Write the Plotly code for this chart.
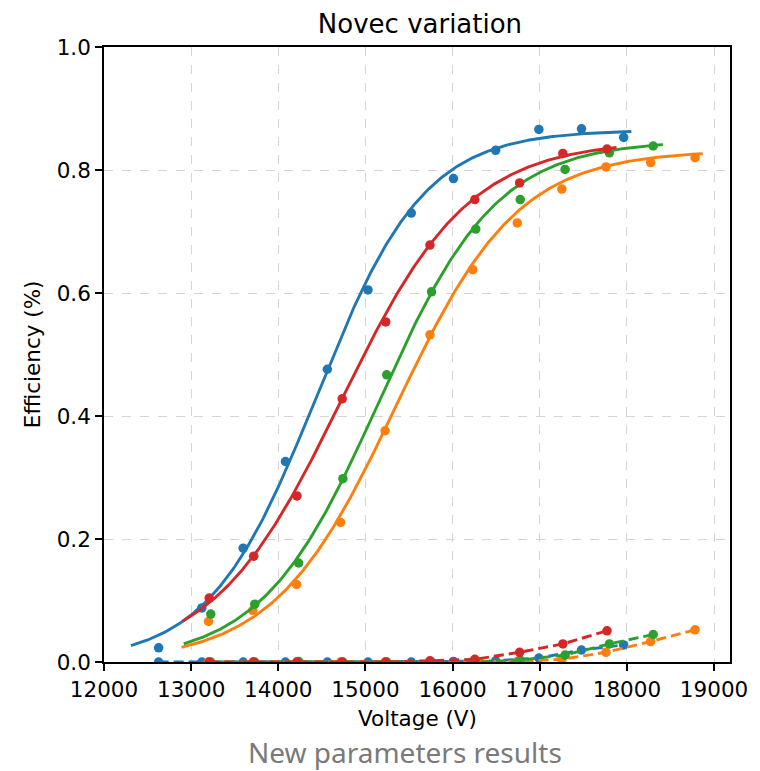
import numpy as np
import plotly.graph_objects as go

# Measured efficiency (solid fit series) and secondary dashed series per configuration
blue_v = [12627, 13123, 13597, 14082, 14563, 15029, 15526, 16010, 16494, 16990, 17479, 17963]
blue_eff = [0.023, 0.088, 0.185, 0.326, 0.476, 0.605, 0.730, 0.786, 0.832, 0.866, 0.867, 0.853]
blue_low = [0.0, 0.0, 0.0, 0.0, 0.0, 0.0, 0.0, 0.001, 0.002, 0.0065, 0.0195, 0.0278]

red_v = [13207, 13718, 14214, 14733, 15233, 15740, 16255, 16769, 17265, 17772]
red_eff = [0.104, 0.172, 0.270, 0.428, 0.553, 0.678, 0.752, 0.779, 0.827, 0.834]
red_low = [0.0, 0.0, 0.0, 0.0, 0.0, 0.002, 0.0044, 0.0158, 0.0294, 0.0507]

green_v = [13225, 13730, 14233, 14741, 15244, 15758, 16266, 16776, 17291, 17799, 18302]
green_eff = [0.078, 0.094, 0.161, 0.298, 0.467, 0.602, 0.704, 0.752, 0.801, 0.828, 0.839]
green_low = [0.0, 0.0, 0.001, 0.0, 0.0, 0.0, 0.0, 0.003, 0.0114, 0.0294, 0.0447]

orange_v = [13199, 13707, 14210, 14714, 15225, 15740, 16231, 16742, 17254, 17760, 18272, 18782]
orange_eff = [0.066, 0.084, 0.126, 0.227, 0.376, 0.532, 0.638, 0.714, 0.769, 0.805, 0.812, 0.820]
orange_low = [0.0, 0.0, 0.0, 0.0, 0.0, 0.0, 0.0, 0.001, 0.0044, 0.0158, 0.0333, 0.0524]

# Logistic fit coefficients (plateau, slope per volt, midpoint) and fitted voltage span
fit_L = {"blue": 0.865, "red": 0.848, "green": 0.848, "orange": 0.832}
fit_k = {"blue": 0.00162, "red": 0.00136, "green": 0.00148, "orange": 0.00143}
fit_x0 = {"blue": 14440, "red": 14718, "green": 15157, "orange": 15350}
fit_span = {"blue": (12309, 18051), "red": (12903, 17881),
            "green": (12915, 18413), "orange": (12889, 18870)}

x_ticks = [12000, 13000, 14000, 15000, 16000, 17000, 18000, 19000]
y_ticks = [0.0, 0.2, 0.4, 0.6, 0.8, 1.0]

colors = {"blue": "#1f77b4", "orange": "#ff7f0e", "green": "#2ca02c", "red": "#d62728"}

series = [
    ("blue", blue_v, blue_eff, blue_low),
    ("orange", orange_v, orange_eff, orange_low),
    ("green", green_v, green_eff, green_low),
    ("red", red_v, red_eff, red_low),
]

fig = go.Figure()

for name, v, eff, low in series:
    c = colors[name]
    lo, hi = fit_span[name]
    xs = np.linspace(lo, hi, 300)
    ys = fit_L[name] / (1.0 + np.exp(-fit_k[name] * (xs - fit_x0[name])))
    fig.add_trace(go.Scatter(x=xs, y=ys, mode="lines",
                             line=dict(color=c, width=2.9), showlegend=False,
                             hoverinfo="skip"))
    fig.add_trace(go.Scatter(x=v, y=eff, mode="markers",
                             marker=dict(color=c, size=9.5), showlegend=False))
    fig.add_trace(go.Scatter(x=v, y=low, mode="lines+markers",
                             line=dict(color=c, width=2.9, dash="10px,5px"),
                             marker=dict(color=c, size=9.5), showlegend=False))

axis_font = dict(family="DejaVu Sans", size=21.5, color="black")
common = dict(showline=True, mirror=True, linecolor="black", linewidth=1.7,
              ticks="outside", ticklen=7, tickwidth=1.7, tickcolor="black",
              showgrid=True, gridcolor="#d4d4d4", gridwidth=1.3, griddash="dash",
              zeroline=False, tickfont=axis_font)

fig.update_xaxes(range=[12000, 19183], tickvals=x_ticks,
                 ticktext=[str(t) for t in x_ticks], **common)
fig.update_yaxes(range=[0, 1], tickvals=y_ticks,
                 ticktext=[f"{t:.1f}" for t in y_ticks], **common)

fig.update_layout(
    width=760, height=771,
    margin=dict(l=104, r=24, t=47, b=109),
    paper_bgcolor="white", plot_bgcolor="white",
    title=dict(text="Novec variation", x=0.5526, xanchor="center",
               y=1 - 24 / 771, yanchor="middle", yref="container",
               font=dict(family="DejaVu Sans", size=26, color="black")),
    annotations=[
        dict(text="Voltage (V)", xref="paper", yref="paper", x=0.5, y=-0.0915,
             xanchor="center", yanchor="middle", showarrow=False,
             font=dict(family="DejaVu Sans", size=21.5, color="black")),
        dict(text="Efficiency (%)", xref="paper", yref="paper", x=-0.114, y=0.5,
             xanchor="center", yanchor="middle", textangle=-90, showarrow=False,
             font=dict(family="DejaVu Sans", size=21.5, color="black")),
        dict(text="New parameters results", xref="paper", yref="paper",
             x=0.481, y=-0.146, xanchor="center", yanchor="middle", showarrow=False,
             font=dict(family="Noto Sans", size=28, color="#7a7a7a")),
    ],
)

fig.write_html("out.html")
